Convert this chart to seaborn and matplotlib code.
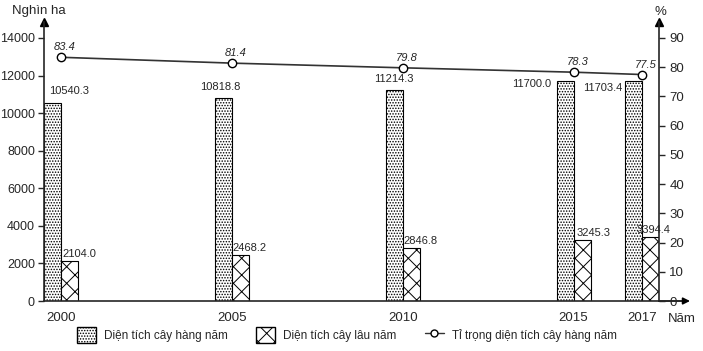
import matplotlib
matplotlib.use("Agg")
import matplotlib.pyplot as plt
import seaborn as sns
import pandas as pd
from matplotlib.patches import Patch
from matplotlib.lines import Line2D

years = [2000, 2005, 2010, 2015, 2017]
annual = [10540.3, 10818.8, 11214.3, 11700.0, 11703.4]
perennial = [2104.0, 2468.2, 2846.8, 3245.3, 3394.4]
share = [83.4, 81.4, 79.8, 78.3, 77.5]
series_names = ["Diện tích cây hàng năm", "Diện tích cây lâu năm",
                "Tỉ trọng diện tích cây hàng năm"]
left_ticks = [0, 2000, 4000, 6000, 8000, 10000, 12000, 14000]
right_ticks = [0, 10, 20, 30, 40, 50, 60, 70, 80, 90]

# label offsets in pixels (style only)
annual_off = [(8, 12), (-12, 11), (-9, 11), (-42, -3), (-39, -7)]
peren_off = [(1, 7), (1, 7), (1, 7), (3, 7), (-5, 7)]

sns.set_style("ticks")
plt.rcParams['font.family'] = ['Liberation Sans', 'DejaVu Sans']
plt.rcParams['hatch.linewidth'] = 0.7

W, H = 703, 351
fig = plt.figure(figsize=(W / 100, H / 100), dpi=100)
L, R, B, T = 44, 659, 301, 22
ax = fig.add_axes([L / W, 1 - B / H, (R - L) / W, (B - T) / H])

df = pd.DataFrame({
    "year": years * 2,
    "value": annual + perennial,
    "type": [series_names[0]] * 5 + [series_names[1]] * 5,
})
sns.barplot(data=df, x="year", y="value", hue="type", native_scale=True,
            width=0.5, gap=0, palette=["white", "white"], edgecolor="black",
            linewidth=0.8, legend=False, ax=ax, errorbar=None)
for p in ax.containers[0]:
    p.set_hatch("......")
for p in ax.containers[1]:
    p.set_hatch("xx")

ytop = 14000 * (B - T) / (301 - 38)
ax.set_xlim(1999.5, 2017.5)
ax.set_ylim(0, ytop)
ax.set_yticks(left_ticks)
ax.set_xticks(years)
ax.set_xticklabels([str(y) for y in years], fontsize=9.5)
ax.tick_params(axis="x", length=0, pad=8)
ax.tick_params(axis="y", labelsize=9, length=4, width=1, direction="out",
               pad=2.5)
ax.set_xlabel("")
ax.set_ylabel("")
for s in ["top", "right"]:
    ax.spines[s].set_visible(False)
ax.spines["left"].set_linewidth(1.2)
ax.spines["bottom"].set_linewidth(1.2)

for x, v, (dx, dy) in zip(years, annual, annual_off):
    ax.annotate(f"{v:.1f}", (x, v), xytext=(dx, dy),
                textcoords="offset pixels", ha="center", va="center",
                fontsize=8)
for x, v, (dx, dy) in zip(years, perennial, peren_off):
    ax.annotate(f"{v:.1f}", (x, v), xytext=(dx, dy),
                textcoords="offset pixels", ha="left", va="center",
                fontsize=8)

ax2 = ax.twinx()
sns.lineplot(x=years, y=share, ax=ax2, color="#333333", linewidth=1.2,
             marker="o", markersize=6, markerfacecolor="white",
             markeredgecolor="black", markeredgewidth=1)
ax2.set_ylim(0, 90 * (B - T) / (301 - 38))
ax2.set_yticks(right_ticks)
ax2.tick_params(axis="y", labelsize=9.5, length=4, width=1, direction="out")
for s in ["top", "left", "bottom"]:
    ax2.spines[s].set_visible(False)
ax2.spines["right"].set_linewidth(1.2)
for x, v in zip(years, share):
    ax2.annotate(f"{v:.1f}", (x, v), xytext=(4, 10),
                 textcoords="offset pixels", ha="center", va="center",
                 fontsize=8, style="italic")

# axis arrows
ax.plot([0], [1], marker="^", color="black", markersize=6,
        transform=ax.transAxes, clip_on=False)
ax2.plot([1], [1], marker="^", color="black", markersize=6,
         transform=ax2.transAxes, clip_on=False)
ax.annotate("", xy=(690 / W, 1 - B / H), xycoords="figure fraction",
            xytext=(1, 0), textcoords="axes fraction",
            arrowprops=dict(arrowstyle="-|>", color="black", lw=1.2,
                            mutation_scale=10, shrinkA=0, shrinkB=0))

fig.text(12 / W, 1 - 11 / H, "Nghìn ha", fontsize=9.5, va="center", ha="left")
fig.text(660 / W, 1 - 12 / H, "%", fontsize=9.5, va="center", ha="center")
fig.text(668 / W, 1 - 319 / H, "Năm", fontsize=9.5, va="center", ha="left")

handles = [
    Patch(facecolor="white", edgecolor="black", hatch="......",
          label=series_names[0]),
    Patch(facecolor="white", edgecolor="black", hatch="xx",
          label=series_names[1]),
    Line2D([], [], color="#333333", marker="o", markerfacecolor="white",
           markeredgecolor="black", markersize=5, lw=1,
           label=series_names[2]),
]
fig.legend(handles=handles, loc="center", bbox_to_anchor=(347 / W, 1 - 335 / H),
           ncol=3, frameon=False, fontsize=8.5, handlelength=1.6,
           handleheight=1.6, columnspacing=2.4, handletextpad=0.7)

fig.savefig("out.png", dpi=100)
